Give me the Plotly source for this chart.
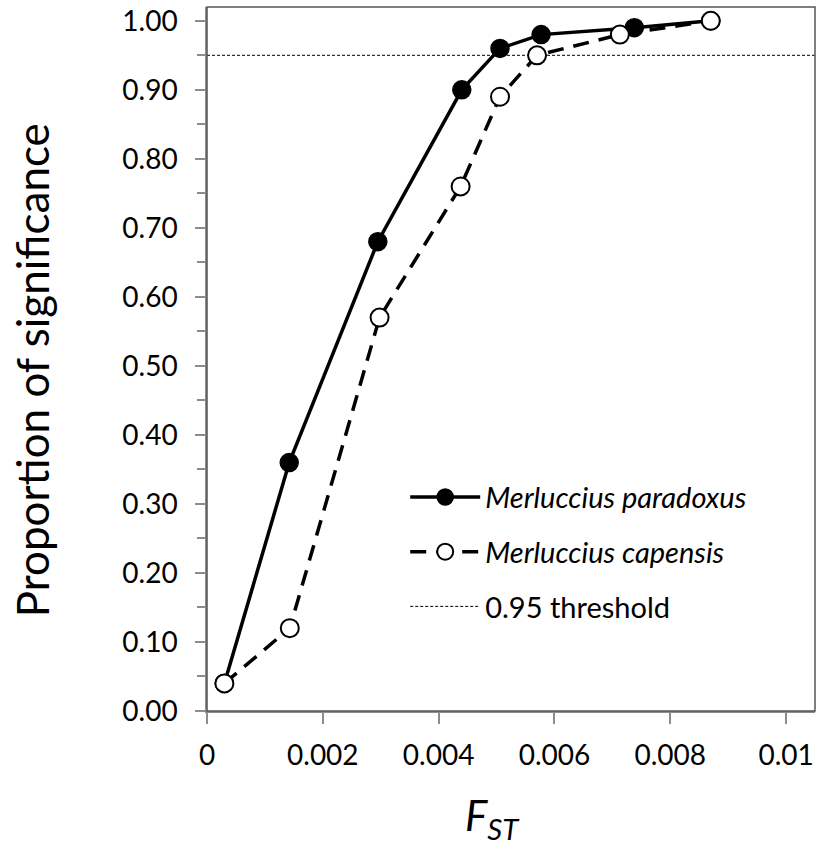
import plotly.graph_objects as go

fst_paradoxus = [0.0003, 0.00142, 0.00295, 0.0044, 0.00506, 0.00577, 0.00738, 0.0087]
sig_paradoxus = [0.04, 0.36, 0.68, 0.90, 0.96, 0.98, 0.99, 1.00]
fst_capensis = [0.0003, 0.00143, 0.00298, 0.00438, 0.00506, 0.0057, 0.00713, 0.0087]
sig_capensis = [0.04, 0.12, 0.57, 0.76, 0.89, 0.95, 0.98, 1.00]
threshold = 0.95
x_ticks = [0, 0.002, 0.004, 0.006, 0.008, 0.01]
x_tick_labels = ["0", "0.002", "0.004", "0.006", "0.008", "0.01"]
y_ticks = [0.0, 0.1, 0.2, 0.3, 0.4, 0.5, 0.6, 0.7, 0.8, 0.9, 1.0]

FONT = "Lato"
X_MAX = 0.0105
Y_MAX = 1.02

fig = go.Figure()
fig.add_trace(go.Scatter(
    x=[0, X_MAX], y=[threshold, threshold], mode="lines",
    line=dict(color="black", width=1, dash="3px,2px"),
    name="0.95 threshold", legendgroup="c", legendrank=3,
))
fig.add_trace(go.Scatter(
    x=fst_paradoxus, y=sig_paradoxus, mode="lines+markers",
    line=dict(color="black", width=3.5),
    marker=dict(symbol="circle", size=18, color="black", line=dict(color="black", width=1.5)),
    name="<i>Merluccius paradoxus</i>", legendgroup="a", legendrank=1,
))
fig.add_trace(go.Scatter(
    x=fst_capensis, y=sig_capensis, mode="lines+markers",
    line=dict(color="black", width=3.5, dash="16px,10px"),
    marker=dict(symbol="circle", size=18, color="white", line=dict(color="black", width=2)),
    name="<i>Merluccius capensis</i>", legendgroup="b", legendrank=2,
))

fig.update_layout(
    width=817, height=851,
    margin=dict(l=207, r=2, t=7, b=140),
    paper_bgcolor="white", plot_bgcolor="white",
    font=dict(family=FONT, size=28, color="black"),
    showlegend=True,
    legend=dict(
        x=0.326, y=0.34, xanchor="left", yanchor="top",
        bgcolor="rgba(0,0,0,0)", font=dict(size=29),
        itemwidth=70, traceorder="grouped", tracegroupgap=14,
    ),
    xaxis=dict(
        range=[0, X_MAX], tickvals=x_ticks, ticktext=x_tick_labels,
        showgrid=False, zeroline=False, showline=True, linecolor="#8c8c8c", linewidth=1.5,
        ticks="outside", ticklen=11, tickcolor="#8c8c8c", tickwidth=1.5,
        ticklabelstandoff=8,
    ),
    yaxis=dict(
        range=[0, Y_MAX], tickvals=y_ticks, tickformat=".2f",
        showgrid=False, zeroline=False, showline=True, linecolor="#8c8c8c", linewidth=1.5,
        ticks="outside", ticklen=10, tickcolor="#8c8c8c", tickwidth=1.5,
        ticklabelstandoff=12,
        minor=dict(dtick=0.05, ticks="outside", ticklen=8, tickcolor="#8c8c8c", tickwidth=1.5),
    ),
    annotations=[
        dict(text="Proportion of significance", textangle=-90, font=dict(size=44),
             xref="paper", yref="paper", x=-0.288, y=0.484,
             xanchor="center", yanchor="middle", showarrow=False),
        dict(text="<i>F<sub>ST</sub></i>", font=dict(size=42),
             xref="paper", yref="paper", x=0.47, y=-0.152,
             xanchor="center", yanchor="middle", showarrow=False),
    ],
)
fig.add_shape(type="rect", xref="paper", yref="paper", x0=0, x1=1, y0=0, y1=1,
              line=dict(color="#555555", width=1.5), layer="above")

fig.write_html("out.html")
